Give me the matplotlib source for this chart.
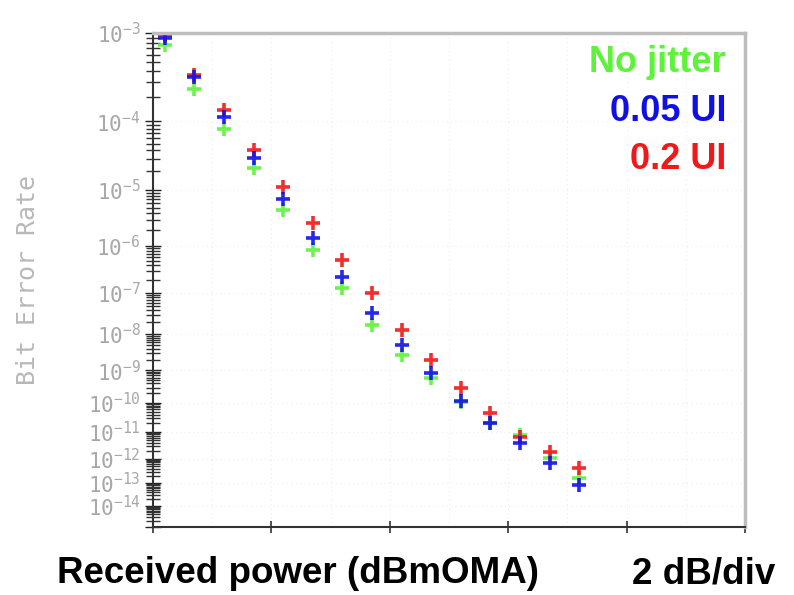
import numpy as np
import matplotlib
matplotlib.use("Agg")
import matplotlib.pyplot as plt

# received power (dBm, 0.5 dB steps) -- axis is unlabelled, 2 dB/div
power = [-21.8, -21.3, -20.8, -20.3, -19.8, -19.3, -18.8, -18.3,
         -17.8, -17.3, -16.8, -16.3, -15.8, -15.3, -14.8]

ber_no_jitter = [7.6e-4, 2.5e-4, 7.9e-5, 2.2e-5, 4.6e-6, 8.3e-7, 1.3e-7, 1.7e-8,
                 2.7e-9, 5.9e-10, 1.05e-10, 2.1e-11, 7.8e-12, 1.05e-12, 1.6e-13]
ber_005ui = [9.0e-4, 3.45e-4, 1.13e-4, 3.1e-5, 7.1e-6, 1.4e-6, 2.3e-7, 3.4e-8,
             5.2e-9, 8.3e-10, 1.1e-10, 2.1e-11, 3.9e-12, 6.7e-13, 8.4e-14]
ber_02ui = [9.5e-4, 3.6e-4, 1.4e-4, 4.0e-5, 1.1e-5, 2.7e-6, 5.2e-7, 1.0e-7,
            1.3e-8, 2.0e-9, 2.9e-10, 4.6e-11, 6.6e-12, 1.8e-12, 4.2e-13]

series_labels = ["No jitter", "0.05 UI", "0.2 UI"]
series_colors = ["#5ef23a", "#1010e6", "#f01818"]

decades = list(range(3, 16))


def fwd(b):
    b = np.clip(b, 1e-300, 0.999)
    return -np.log10(-np.log10(b))


def inv(v):
    return 10.0 ** (-(10.0 ** (-v)))


plt.rcParams["mathtext.fontset"] = "custom"
plt.rcParams["mathtext.rm"] = "DejaVu Sans Mono"
plt.rcParams["mathtext.it"] = "DejaVu Sans Mono"

fig = plt.figure(figsize=(7.94, 5.95), dpi=100)
ax = fig.add_axes([0.1927, 0.1143, 0.9383 - 0.1927, 0.9445 - 0.1143])
ax.set_yscale("function", functions=(fwd, inv))
ax.set_ylim(1e-15, 1e-3)
ax.set_xlim(-22, -12)

# faint dotted grid
for gx in np.arange(-21, -12, 1.0):
    ax.axvline(gx, color="#ececec", lw=0.8, ls=(0, (1, 3)), zorder=0)
for d in decades[1:-1]:
    ax.axhline(10.0 ** -d, color="#ececec", lw=0.8, ls=(0, (1, 3)), zorder=0)

for ber, col in [(ber_no_jitter, series_colors[0]),
                 (ber_02ui, series_colors[2]),
                 (ber_005ui, series_colors[1])]:
    ax.plot(power, ber, ls="none", marker="+", ms=10, mew=2.6,
            color=col, alpha=0.9, clip_on=True)

# y ticks: decades + 2..9 minors
majors = [10.0 ** -d for d in decades]
minors = [k * 10.0 ** -d for d in decades[1:] for k in range(2, 10)]
ax.set_yticks(majors)
ax.set_yticks(minors, minor=True)
ax.set_yticklabels([r"$10^{-%d}$" % d if d < 15 else "" for d in decades])
ax.tick_params(axis="y", which="major", direction="inout", length=12,
               width=1.0, color="#222222", labelcolor="#a8a8a8",
               labelsize=15, pad=3)
ax.tick_params(axis="y", which="minor", direction="inout", length=10,
               width=1.0, color="#333333")

ax.set_xticks(np.arange(-22, -11, 2))
ax.set_xticklabels([])
ax.tick_params(axis="x", direction="inout", length=8, width=1.2,
               color="#333333")

for s in ["left", "bottom"]:
    ax.spines[s].set_color("#333333")
    ax.spines[s].set_linewidth(1.5)
for s in ["top", "right"]:
    ax.spines[s].set_color("#bdbdbd")
    ax.spines[s].set_linewidth(2.5)

ax.set_ylabel("Bit Error Rate", family="DejaVu Sans Mono", fontsize=18,
              color="#b8b8b8", labelpad=34)

bold = ["Liberation Sans Narrow", "Liberation Sans", "DejaVu Sans"]
for i, (lab, col) in enumerate(zip(series_labels, series_colors)):
    ax.text(0.968, 0.941 - i * 0.099, lab, transform=ax.transAxes,
            ha="right", va="center", color=col, fontsize=26,
            fontweight="bold", family=bold)

fig.text(0.072, 0.036, "Received power (dBmOMA)", ha="left", va="center",
         fontsize=26.5, fontweight="bold", family=bold)
fig.text(0.976, 0.036, "2 dB/div", ha="right", va="center",
         fontsize=26.5, fontweight="bold", family=bold)

fig.savefig("out.png", dpi=100)
